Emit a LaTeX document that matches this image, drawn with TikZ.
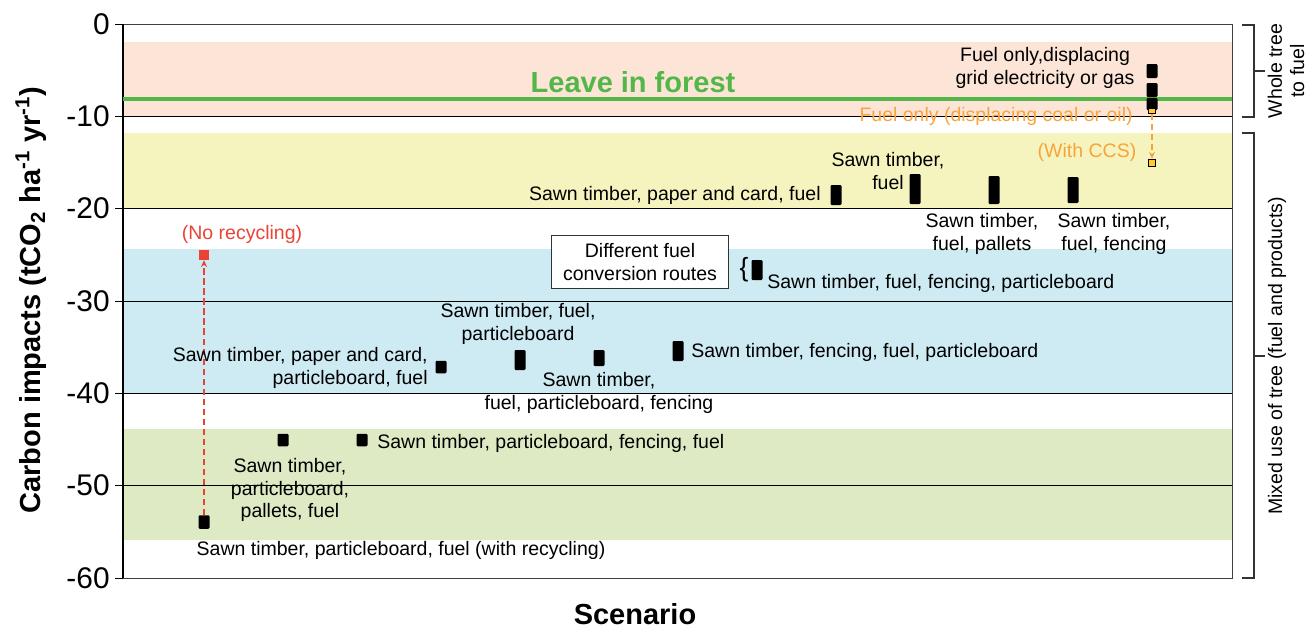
\documentclass[tikz,border=0pt]{standalone}
\usepackage{fontspec}
\setmainfont{Liberation Sans}
\usetikzlibrary{arrows.meta, positioning}
\definecolor{bandorange}{RGB}{252, 229, 214}
\definecolor{bandyellow}{RGB}{246, 244, 190}
\definecolor{bandblue}{RGB}{206, 234, 242}
\definecolor{bandgreen}{RGB}{222, 234, 196}
\definecolor{forestgreen}{RGB}{82, 183, 72}
\definecolor{recyred}{RGB}{234, 67, 53}
\definecolor{ccsorange}{RGB}{247, 164, 60}
\definecolor{ccsfill}{RGB}{253, 203, 45}
\tikzset{
  sq/.style={rectangle, fill=black, rounded corners=0.6pt, inner sep=0pt,
             minimum width=0.22cm, minimum height=#1},
  sq/.default=0.25cm,
  lbl/.style={font=\fontsize{11.1}{12.6}\selectfont, align=center, inner sep=0pt},
  ticklbl/.style={font=\fontsize{17}{20}\selectfont, anchor=east, inner sep=0pt},
  axtitle/.style={font=\fontsize{16.5}{20}\selectfont\bfseries, inner sep=0pt},
  recyarrow/.style={-{Stealth[length=4pt, width=3.5pt]}, recyred, line width=0.9pt,
                    dash pattern=on 3.5pt off 2.2pt},
  ccsarrow/.style={-{Stealth[length=4pt, width=3.5pt]}, ccsorange, line width=0.9pt,
                   dash pattern=on 3.5pt off 2.2pt},
  bracket/.style={draw=black!80, line width=0.6pt},
}
\begin{document}
\begin{tikzpicture}[x=0.02cm, y=-0.02cm]
  \useasboundingbox (0,0) rectangle (1309,629);
  % background bands
  \fill[bandorange] (123,42) rectangle (1232,117);
  \fill[bandyellow] (123,133) rectangle (1232,208);
  \fill[bandblue] (123,249) rectangle (1232,393);
  \fill[bandgreen] (123,429) rectangle (1232,540);
  % grid, ticks and frame
  \foreach \k in {1,...,5}
    \draw[thin] (123,{24+92.33*\k}) -- (1232,{24+92.33*\k});
  \foreach \k/\t in {0/0,1/-10,2/-20,3/-30,4/-40,5/-50,6/-60} {
    \draw[thin] (115,{24+92.33*\k}) -- (123,{24+92.33*\k});
    \node[ticklbl] at (110,{24+92.33*\k}) {\t};
  }
  \draw[black!75, thin] (123,24) rectangle (1232,578);
  \draw[black, line width=0.8pt] (123,24) -- (123,578);
  % leave in forest
  \draw[forestgreen, line width=2.2pt] (123,99) -- (1232,99);
  \node[axtitle, forestgreen] (forest) at (633,82) {Leave in forest};
  % axis titles
  \node[axtitle, rotate=90] (ytitle) at (31,300)
       {Carbon impacts (tCO\textsubscript{2} ha\textsuperscript{-1} yr\textsuperscript{-1})};
  \node[axtitle] (xtitle) at (635,614) {Scenario};

  % mixed use scenarios
  \node[sq=0.27cm] (s1) at (204,522) {};
  \node[rectangle, fill=recyred, inner sep=0pt, minimum size=0.19cm] (nr) at (204,255) {};
  \draw[recyarrow] (s1.north) -- (nr.south);
  \node[lbl, recyred] (nrlbl) at (242,234) {(No recycling)};
  \node[lbl] (l1) at (401,550) {Sawn timber, particleboard, fuel (with recycling)};
  \node[sq] (s2) at (283,440) {};
  \node[lbl] (l2) at (290,490) {Sawn timber,\\particleboard,\\pallets, fuel};
  \node[sq] (s3) at (362,440) {};
  \node[lbl, anchor=west] (l3) at (377,443) {Sawn timber, particleboard, fencing, fuel};
  \node[sq] (s4) at (441,367) {};
  \node[lbl, align=right, anchor=east] (l4) at (428,368)
       {Sawn timber, paper and card,\\particleboard, fuel};
  \node[sq=0.4cm] (s5) at (520,360) {};
  \node[lbl] (l5) at (518,324) {Sawn timber, fuel,\\particleboard};
  \node[sq=0.32cm] (s6) at (599,358) {};
  \node[lbl] (l6) at (599,393) {Sawn timber,\\fuel, particleboard, fencing};
  \node[sq=0.4cm] (s7) at (678,351) {};
  \node[lbl, anchor=west] (l7) at (691,352) {Sawn timber, fencing, fuel, particleboard};
  \node[sq=0.4cm] (s8) at (757,270) {};
  \node[lbl, font=\fontsize{15}{15}\selectfont] (brace) at (744,270) {\{};
  \node[lbl, anchor=west] (l8) at (767,283) {Sawn timber, fuel, fencing, particleboard};
  \node[lbl, draw=black!80, fill=white, line width=0.6pt, minimum width=3.54cm,
        minimum height=1.06cm] (routes) at (640,262) {Different fuel\\conversion routes};
  \node[sq=0.4cm] (s9) at (836,195) {};
  \node[lbl, anchor=east] (l9) at (821,195) {Sawn timber, paper and card, fuel};
  \node[sq=0.6cm] (s10) at (915,189) {};
  \node[lbl] (l10) at (888,171) {Sawn timber,\\fuel};
  \node[sq=0.56cm] (s11) at (994,190) {};
  \node[lbl] (l11) at (982,234) {Sawn timber,\\fuel, pallets};
  \node[sq=0.52cm] (s12) at (1073,190) {};
  \node[lbl] (l12) at (1114,234) {Sawn timber,\\fuel, fencing};

  % whole tree to fuel
  \node[sq=0.28cm] (f1) at (1152,71) {};
  \node[sq=0.28cm] (f2) at (1152,90) {};
  \node[sq=0.24cm] (f3) at (1152,104) {};
  \node[rectangle, fill=ccsfill, draw=black, line width=0.5pt, inner sep=0pt,
        minimum width=0.14cm, minimum height=0.1cm] (f4) at (1152,111) {};
  \node[rectangle, fill=ccsfill, draw=black, line width=0.6pt, inner sep=0pt,
        minimum size=0.15cm] (ccs) at (1152,163) {};
  \draw[ccsarrow] (f4.south) -- (ccs.north);
  \node[lbl] (l13) at (1045,68) {Fuel only,displacing\\grid electricity or gas};
  \node[lbl, ccsorange, anchor=east] (l14) at (1133,116) {Fuel only (displacing coal or oil)};
  \node[lbl, ccsorange] (l15) at (1087,152) {(With CCS)};

  % brackets on the right
  \draw[bracket] (1242,25) -- (1254,25) -- (1254,117) -- (1242,117);
  \draw[bracket] (1254,71) -- (1265,71);
  \node[lbl, rotate=90] (whole) at (1286,71) {Whole tree\\to fuel};
  \draw[bracket] (1242,133) -- (1254,133) -- (1254,578) -- (1242,578);
  \draw[bracket] (1254,356) -- (1265,356);
  \node[lbl, rotate=90] (mixed) at (1277,356) {Mixed use of tree (fuel and products)};
\end{tikzpicture}
\end{document}
